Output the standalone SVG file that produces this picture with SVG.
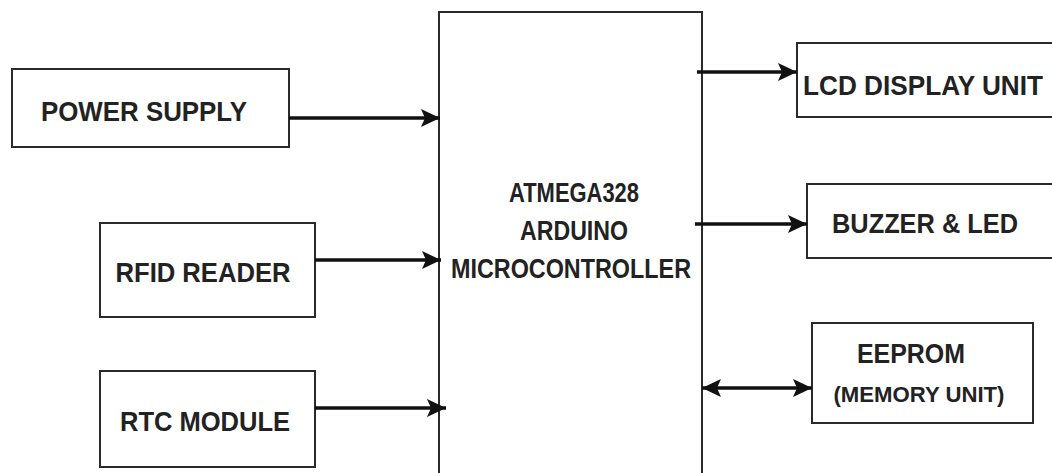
<svg xmlns="http://www.w3.org/2000/svg" width="1052" height="473" viewBox="0 0 1052 473">
<style>
.box{fill:#fff;stroke:#2a2a2a;stroke-width:2}
.lbl{font-family:"Liberation Sans",Arial,sans-serif;font-weight:bold;fill:#222;text-anchor:middle}
.con{stroke:#111;stroke-width:3.5;fill:none}
</style>
<defs>
<marker id="ah" markerUnits="userSpaceOnUse" markerWidth="22" markerHeight="20" refX="19" refY="10" orient="auto-start-reverse">
<path d="M0,1 L19,10 L0,19 L4,10 Z" fill="#111"/>
</marker>
</defs>
<rect width="1052" height="473" fill="#fff"/>
<g id="mcu">
<rect class="box" x="439" y="12" width="263" height="470"/>
<text class="lbl" x="574" y="202" font-size="27" textLength="130" lengthAdjust="spacingAndGlyphs">ATMEGA328</text>
<text class="lbl" x="574" y="240" font-size="27" textLength="108" lengthAdjust="spacingAndGlyphs">ARDUINO</text>
<text class="lbl" x="571" y="278" font-size="27" textLength="240" lengthAdjust="spacingAndGlyphs">MICROCONTROLLER</text>
</g>
<g id="power">
<rect class="box" x="12" y="69" width="277" height="78"/>
<text class="lbl" x="144" y="121" font-size="28" textLength="206" lengthAdjust="spacingAndGlyphs">POWER SUPPLY</text>
</g>
<g id="rfid">
<rect class="box" x="100" y="223" width="215" height="94"/>
<text class="lbl" x="203" y="282" font-size="28" textLength="175" lengthAdjust="spacingAndGlyphs">RFID READER</text>
</g>
<g id="rtc">
<rect class="box" x="100" y="371" width="215" height="96"/>
<text class="lbl" x="205" y="431" font-size="28" textLength="170" lengthAdjust="spacingAndGlyphs">RTC MODULE</text>
</g>
<g id="lcd">
<rect class="box" x="797" y="43" width="270" height="74"/>
<text class="lbl" x="923" y="95" font-size="28" textLength="240" lengthAdjust="spacingAndGlyphs">LCD DISPLAY UNIT</text>
</g>
<g id="buzzer">
<rect class="box" x="807" y="184" width="260" height="74"/>
<text class="lbl" x="925" y="233" font-size="28" textLength="186" lengthAdjust="spacingAndGlyphs">BUZZER &amp; LED</text>
</g>
<g id="eeprom">
<rect class="box" x="812" y="323" width="221" height="100"/>
<text class="lbl" x="911" y="363" font-size="27" textLength="108" lengthAdjust="spacingAndGlyphs">EEPROM</text>
<text class="lbl" x="919" y="402" font-size="22" textLength="171" lengthAdjust="spacingAndGlyphs">(MEMORY UNIT)</text>
</g>
<g id="connectors">
<line class="con" x1="289" y1="118" x2="440" y2="118" marker-end="url(#ah)"/>
<line class="con" x1="315" y1="260" x2="441" y2="260" marker-end="url(#ah)"/>
<line class="con" x1="315" y1="408" x2="446" y2="408" marker-end="url(#ah)"/>
<line class="con" x1="697" y1="72" x2="797" y2="72" marker-end="url(#ah)"/>
<line class="con" x1="695" y1="224" x2="807" y2="224" marker-end="url(#ah)"/>
<line class="con" x1="702" y1="388" x2="812" y2="388" marker-start="url(#ah)" marker-end="url(#ah)"/>
</g>
</svg>
